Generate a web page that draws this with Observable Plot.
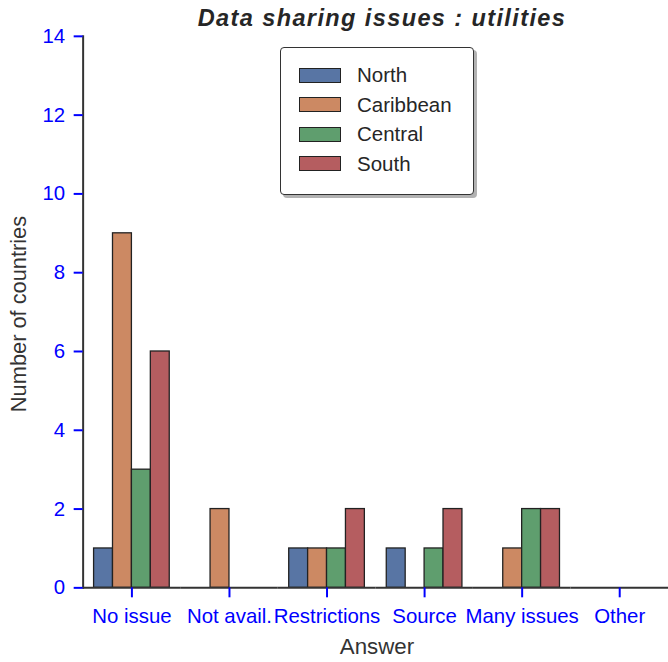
<!DOCTYPE html>
<html>
<head>
<meta charset="utf-8">
<script src="https://cdn.jsdelivr.net/npm/d3@7"></script>
<script src="https://cdn.jsdelivr.net/npm/@observablehq/plot@0.6"></script>
<style>
  html, body { margin: 0; padding: 0; background: #fff; overflow: hidden; }
  #wrap { position: relative; width: 668px; height: 662px; font-family: "Liberation Sans", Arial, sans-serif; }
  #chart { position: absolute; left: 0; top: 0; }
  .title { position: absolute; left: 182px; top: 5px; width: 400px; text-align: center; font-weight: bold; font-style: italic; font-size: 23.5px; letter-spacing: 1.4px; color: #262626; white-space: nowrap; }
  .ylab { position: absolute; left: 19px; top: 314px; transform: translate(-50%, -50%) rotate(-90deg); font-size: 21.8px; color: #333; white-space: nowrap; }
  .xlab { position: absolute; left: 377px; top: 634px; transform: translateX(-50%); font-size: 22.3px; color: #333; white-space: nowrap; }
  .legend { position: absolute; left: 280px; top: 47px; width: 192px; height: 146px; background: #fff; border: 1.3px solid #333; border-radius: 4px; box-shadow: 3px 3px 0 rgba(0,0,0,0.3); }
  .legend .row { position: absolute; left: 18px; height: 16px; display: flex; align-items: center; }
  .legend .sw { width: 40px; height: 13px; border: 1.3px solid #222; }
  .legend .lb { margin-left: 16px; font-size: 20.5px; color: #262626; white-space: nowrap; }
</style>
</head>
<body>
<div id="wrap">
  <div id="chart"></div>
  <div class="title">Data sharing issues : utilities</div>
  <div class="ylab">Number of countries</div>
  <div class="xlab">Answer</div>
  <div class="legend" id="legend"></div>
</div>
<script>
const answers = ["No issue", "Not avail.", "Restrictions", "Source", "Many issues", "Other"];
const regions = ["North", "Caribbean", "Central", "South"];
const colors = ["#5875a4", "#cc8963", "#5f9e6e", "#b55d60"];
const north = [1, 0, 1, 1, 0, 0];
const caribbean = [9, 2, 1, 0, 1, 0];
const central = [3, 0, 1, 1, 2, 0];
const south = [6, 0, 2, 2, 2, 0];
const yTicks = [0, 2, 4, 6, 8, 10, 12, 14];

const series = [north, caribbean, central, south];
const data = [];
answers.forEach((a, i) => {
  regions.forEach((r, j) => {
    const v = series[j][i];
    if (v > 0) data.push({answer: a, region: r, value: v});
  });
});

const chart = Plot.plot({
  width: 671,
  height: 662,
  marginLeft: 82,
  marginRight: 0,
  marginTop: 36,
  marginBottom: 72,
  style: {fontFamily: "'Liberation Sans', Arial, sans-serif", background: "white"},
  fx: {domain: answers, padding: 0, label: null},
  x: {domain: regions, paddingInner: 0, paddingOuter: 0.5, axis: null},
  y: {domain: [0, 14], label: null},
  color: {domain: regions, range: colors},
  marks: [
    Plot.barY(data, {fx: "answer", x: "region", y: "value", fill: "region", stroke: "#222", strokeWidth: 1.3}),
    Plot.ruleY(answers, {fx: (d) => d, y: () => 0, stroke: "#333", strokeWidth: 2}),
    Plot.frame({anchor: "left", facetAnchor: "left", stroke: "#333", strokeWidth: 2}),
    Plot.axisY({ticks: yTicks, tickSize: 9, tickPadding: 9, color: "blue", fontSize: 20.5, label: null, strokeWidth: 2}),
    Plot.axisFx({anchor: "bottom", tickSize: 10, tickPadding: 11, color: "blue", fontSize: 20.5, label: null, strokeWidth: 2})
  ]
});
document.getElementById("chart").appendChild(chart);

const legend = document.getElementById("legend");
regions.forEach((r, i) => {
  const row = document.createElement("div");
  row.className = "row";
  row.style.top = (19 + i * 29.5) + "px";
  const sw = document.createElement("div");
  sw.className = "sw";
  sw.style.background = colors[i];
  const lb = document.createElement("div");
  lb.className = "lb";
  lb.textContent = r;
  row.appendChild(sw);
  row.appendChild(lb);
  legend.appendChild(row);
});
</script>
</body>
</html>
